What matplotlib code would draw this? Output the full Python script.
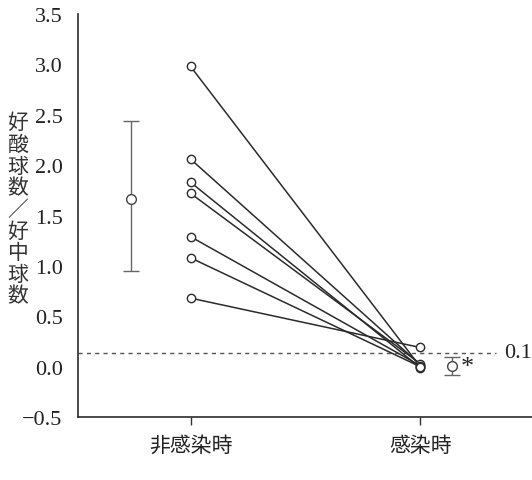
import matplotlib.pyplot as plt

# データ
groups = ['非感染時', '感染時']
before = [2.98, 2.06, 1.83, 1.72, 1.29, 1.08, 0.68]
after = [0.00, 0.02, -0.01, 0.03, 0.01, 0.00, 0.19]
mean_vals = [1.66, 0.01]
err_low = [0.71, 0.09]
err_high = [0.78, 0.09]
threshold = 0.14
threshold_label = '0.1'
yticks = [-0.5, 0.0, 0.5, 1.0, 1.5, 2.0, 2.5, 3.0, 3.5]
ylabel_chars = ['好', '酸', '球', '数', '／', '好', '中', '球', '数']

num_font = 'Liberation Serif'
jp_font = ['Noto Sans CJK JP', 'DejaVu Sans']

fig = plt.figure(figsize=(5.32, 4.81), dpi=100)
ax = fig.add_axes([78 / 532, 63 / 481, 1 - 78 / 532, 403 / 481])

# 個々の患者（線でつなぐ）
for b, a in zip(before, after):
    ax.plot([0, 1], [b, a], '-', color='#2b2b2b', lw=1.1, zorder=2)
    ax.plot([0, 1], [b, a], 'o', mfc='white', mec='#2b2b2b', ms=6, mew=1.0,
            zorder=3)

# 平均 ± SD
mean_x = [-0.26, 1.14]
ax.errorbar(mean_x, mean_vals, yerr=[err_low, err_high], fmt='o',
            mfc='white', mec='#444444', ms=7, mew=1.0, ecolor='#666666',
            elinewidth=1.0, capsize=6, capthick=1.0, zorder=3)
ax.text(1.175, 0.0, '*', fontsize=19, family=num_font, color='#222222',
        va='center', ha='left')

# 閾値の破線
ax.plot([-0.49, 1.33], [threshold, threshold], ls=(0, (3, 3)),
        color='#555555', lw=1.0, zorder=1)
ax.text(1.365, threshold, threshold_label, fontsize=16, family=num_font,
        color='#222222', va='center', ha='left', clip_on=False)

ax.set_xlim(-0.49, 1.487)
ax.set_ylim(-0.5, 3.5)
ax.set_xticks([0, 1])
ax.set_xticklabels(groups, family=jp_font, fontsize=15, color='#222222')
ax.set_yticks(yticks)
ax.set_yticklabels(['−0.5'] + [f'{v:.1f}' for v in yticks[1:]],
                   family=num_font, fontsize=16, color='#222222')
ax.tick_params(axis='y', length=0, pad=11)
ax.tick_params(axis='x', length=6, width=1.0, direction='out', pad=6,
               color='#333333')
for s in ['top', 'right']:
    ax.spines[s].set_visible(False)
for s in ['left', 'bottom']:
    ax.spines[s].set_color('#2b2b2b')
    ax.spines[s].set_linewidth(1.2)

fig.text(18 / 532, 1 - 210 / 481, '\n'.join(ylabel_chars), family=jp_font,
         fontsize=15, color='#333333', ha='center', va='center',
         linespacing=0.98)

fig.savefig('out.png', dpi=100)
